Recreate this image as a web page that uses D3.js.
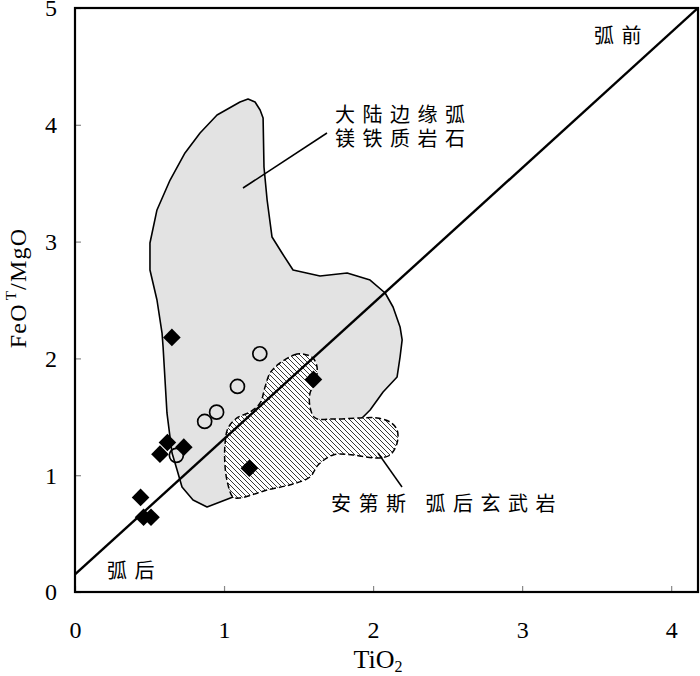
<!DOCTYPE html>
<html>
<head>
<meta charset="utf-8">
<script src="https://cdn.jsdelivr.net/npm/d3@7"></script>
<style>
  html, body { margin: 0; padding: 0; background: #fff; }
  svg { display: block; }
</style>
</head>
<body>
<svg id="chart" width="700" height="676"></svg>
<script>
// ── Data ────────────────────────────────────────────────────────────────────
const xTicks = [0, 1, 2, 3, 4];
const yTicks = [0, 1, 2, 3, 4, 5];

// filled diamonds [TiO2, FeOT/MgO]
const diamonds = [
  [0.65, 2.18], [0.62, 1.28], [0.57, 1.18], [0.73, 1.24],
  [0.44, 0.81], [0.46, 0.64], [0.51, 0.64], [1.17, 1.06], [1.60, 1.82]
];
// open circles
const circles = [
  [1.24, 2.04], [1.09, 1.76], [0.95, 1.54], [0.87, 1.46], [0.68, 1.17]
];

// continental-arc mafic rocks field (grey)
const arcField = [
  [1.161, 4.221], [1.208, 4.195], [1.242, 4.127], [1.262, 4.058], [1.268, 3.639],
  [1.289, 3.356], [1.322, 3.039], [1.389, 2.902], [1.463, 2.757], [1.644, 2.705],
  [1.826, 2.731], [1.980, 2.671], [2.081, 2.560], [2.134, 2.440], [2.181, 2.269],
  [2.195, 2.158], [2.181, 2.012], [2.161, 1.841], [2.067, 1.712], [1.980, 1.558],
  [1.926, 1.490], [1.510, 1.045], [1.060, 0.813], [0.886, 0.728], [0.792, 0.788],
  [0.718, 0.899], [0.685, 1.045], [0.651, 1.190], [0.617, 1.533], [0.604, 1.815],
  [0.591, 2.098], [0.584, 2.217], [0.550, 2.500], [0.503, 2.757], [0.503, 2.988],
  [0.550, 3.271], [0.638, 3.527], [0.738, 3.759], [0.839, 3.930], [0.953, 4.084],
  [1.107, 4.195]
];

// Andes back-arc basalts field (hatched)
const andesField = [
  [1.557, 2.029], [1.490, 2.038], [1.376, 1.961], [1.309, 1.875], [1.275, 1.755],
  [1.242, 1.618], [1.174, 1.541], [1.087, 1.490], [1.027, 1.404], [1.007, 1.276],
  [1.007, 1.070], [1.027, 0.916], [1.060, 0.813], [1.107, 0.805], [1.289, 0.873],
  [1.463, 0.925], [1.577, 0.985], [1.631, 1.087], [1.732, 1.173], [1.866, 1.173],
  [2.027, 1.147], [2.114, 1.173], [2.161, 1.276], [2.161, 1.387], [2.114, 1.455],
  [2.027, 1.490], [1.913, 1.490], [1.732, 1.481], [1.611, 1.490], [1.577, 1.584],
  [1.577, 1.704], [1.611, 1.789], [1.624, 1.926], [1.597, 2.003]
];

// fore-arc / back-arc divide
const divide = [[0, 0.15], [4.18, 5]];

// ── Setup ───────────────────────────────────────────────────────────────────
const SERIF = '"Liberation Serif", "Times New Roman", serif';
const CJK = '"Noto Sans CJK SC", sans-serif';

const svg = d3.select('#chart');
const x = d3.scaleLinear().domain([0, 4.18]).range([75, 698]);
const y = d3.scaleLinear().domain([0, 5]).range([592, 8]);

const defs = svg.append('defs');
const hatch = defs.append('pattern').attr('id', 'hatch')
  .attr('patternUnits', 'userSpaceOnUse').attr('width', 5).attr('height', 5);
hatch.append('rect').attr('width', 5).attr('height', 5).attr('fill', '#fff');
hatch.append('path').attr('d', 'M-1,-1 L6,6 M-1,4 L1,6 M4,-1 L6,1')
  .attr('stroke', '#222').attr('stroke-width', 0.9);

defs.append('clipPath').attr('id', 'plot-clip')
  .append('rect').attr('x', 75).attr('y', 8).attr('width', 623).attr('height', 584);

const line = d3.line().x(d => x(d[0])).y(d => y(d[1]));
const smooth = d3.line().x(d => x(d[0])).y(d => y(d[1])).curve(d3.curveCatmullRomClosed.alpha(0.5));

const g = svg.append('g').attr('clip-path', 'url(#plot-clip)');

// ── Fields ──────────────────────────────────────────────────────────────────
g.append('path').attr('d', line(arcField) + 'Z')
  .attr('fill', '#e3e3e3').attr('stroke', '#000').attr('stroke-width', 1.6)
  .attr('stroke-linejoin', 'round');

g.append('path').attr('d', smooth(andesField))
  .attr('fill', 'url(#hatch)').attr('stroke', '#000').attr('stroke-width', 1.5)
  .attr('stroke-dasharray', '6,3');

// ── Divide line ─────────────────────────────────────────────────────────────
g.append('path').attr('d', line(divide))
  .attr('stroke', '#000').attr('stroke-width', 2.4).attr('fill', 'none');

// ── Axes (inner grey ticks, serif labels) ───────────────────────────────────
const axisX = svg.append('g').attr('transform', `translate(0,${y(0)})`)
  .call(d3.axisBottom(x).tickValues(xTicks).tickSize(-6).tickFormat(d3.format('d')));
const axisY = svg.append('g').attr('transform', `translate(${x(0)},0)`)
  .call(d3.axisLeft(y).tickValues(yTicks).tickSize(-6).tickFormat(d3.format('d')));
[axisX, axisY].forEach(a => {
  a.attr('font-family', null).attr('font-size', null);
  a.select('.domain').remove();
  a.selectAll('.tick line').attr('stroke', '#888').attr('stroke-width', 1.2);
  a.selectAll('.tick text')
    .style('font-family', SERIF).style('font-size', '24px').attr('fill', '#000');
});
axisX.selectAll('.tick text').attr('dy', null).attr('y', 46);
axisY.selectAll('.tick text').attr('x', -18).attr('dy', '0.33em');

// frame
svg.append('rect').attr('x', 75).attr('y', 8).attr('width', 623).attr('height', 584)
  .attr('fill', 'none').attr('stroke', '#000').attr('stroke-width', 2.2);

// ── Points ──────────────────────────────────────────────────────────────────
svg.append('g').selectAll('path.dia').data(diamonds).join('path')
  .attr('class', 'dia')
  .attr('d', d3.symbol(d3.symbolSquare, 155))
  .attr('transform', d => `translate(${x(d[0])},${y(d[1])}) rotate(45)`)
  .attr('fill', '#000');

svg.append('g').selectAll('circle').data(circles).join('circle')
  .attr('cx', d => x(d[0])).attr('cy', d => y(d[1])).attr('r', 7)
  .attr('fill', 'none').attr('stroke', '#000').attr('stroke-width', 1.7);

// ── Labels ──────────────────────────────────────────────────────────────────
svg.append('text').style('font-family', SERIF).style('font-size', '26px')
  .attr('x', 378).attr('y', 668).attr('text-anchor', 'middle')
  .call(t => {
    t.append('tspan').text('TiO');
    t.append('tspan').style('font-size', '16px').attr('dy', 4).text('2');
  });

svg.append('text').style('font-family', SERIF).style('font-size', '24px')
  .attr('letter-spacing', 1.2)
  .attr('transform', 'translate(26,288) rotate(-90)').attr('text-anchor', 'middle')
  .call(t => {
    t.append('tspan').text('FeO');
    t.append('tspan').style('font-size', '15px').attr('dx', 3).attr('dy', -10).text('T');
    t.append('tspan').attr('dy', 10).text('/MgO');
  });

const cjk = (txt, px, py) => svg.append('text')
  .style('font-family', CJK).style('font-size', '20px')
  .attr('letter-spacing', 7.5).attr('x', px).attr('y', py).text(txt);

cjk('弧前', 594, 43);
cjk('弧后', 107, 578);
cjk('大陆边缘弧', 335, 122);
cjk('镁铁质岩石', 335, 146);
cjk('安第斯 弧后玄武岩', 331, 511);

// leader lines
svg.append('line').attr('x1', 243).attr('y1', 188).attr('x2', 327).attr('y2', 133)
  .attr('stroke', '#000').attr('stroke-width', 1.5);
svg.append('line').attr('x1', 378).attr('y1', 453).attr('x2', 402).attr('y2', 487)
  .attr('stroke', '#000').attr('stroke-width', 1.5);
</script>
</body>
</html>
